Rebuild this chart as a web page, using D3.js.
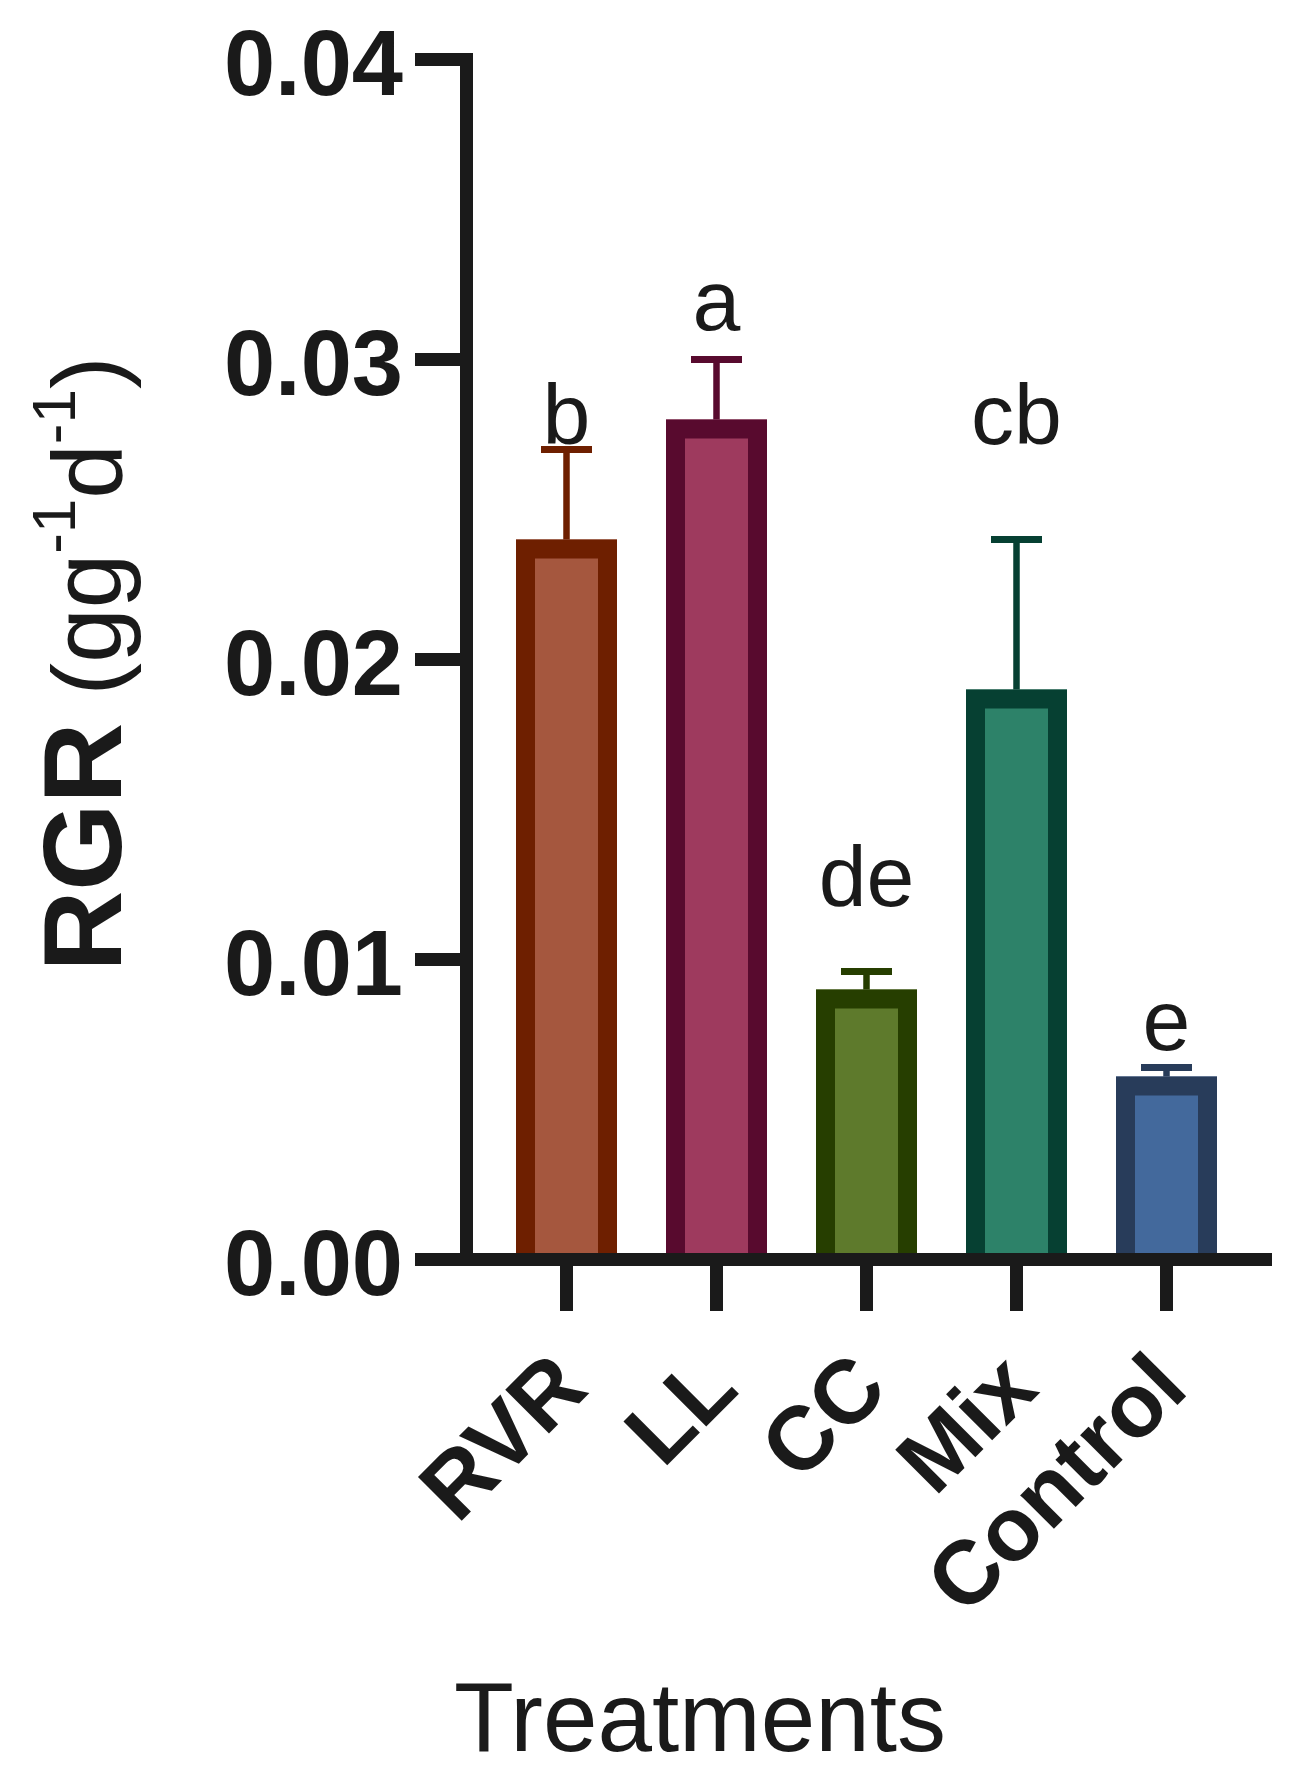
<!DOCTYPE html>
<html lang="en">
<head>
    <meta charset="UTF-8">
    <title>RGR - treatments</title>
    <style>
        body{
            margin : 0;
            background-color: white;
        }
        text{
            font-family : "Liberation Sans", Arial, sans-serif;
            fill : #1a1a1a;
        }
    </style>
</head>
<body>
    <script src="https://cdn.jsdelivr.net/npm/d3@7"></script>
    <script>
        // donnees
        const categories = ["RVR", "LL", "CC", "Mix", "Control"];
        const moyennes = [0.024, 0.028, 0.009, 0.019, 0.0061];
        const erreurs = [0.003, 0.002, 0.0006, 0.005, 0.0003];
        const lettres = ["b", "a", "de", "cb", "e"];
        const positionLettres = [0.0272, 0.0310, 0.0118, 0.0272, 0.0070];
        const graduationsY = [0, 0.01, 0.02, 0.03, 0.04];
        const remplissages = ["#a5573e", "#9e3a5e", "#5e7a2c", "#2d8269", "#43699c"];
        const contours = ["#6e1f00", "#580a2e", "#263e00", "#064032", "#283c5a"];

        const donnees = categories.map((c, i) => ({
            nom : c,
            moyenne : moyennes[i],
            erreur : erreurs[i],
            lettre : lettres[i],
            posLettre : positionLettres[i],
            fond : remplissages[i],
            bord : contours[i]
        }));

        const largeur = 1295, hauteur = 1772;
        const noir = "#1a1a1a";
        const epaisseurAxe = 13;
        const largeurBarre = 101;
        const bordBarre = 19;

        let canevas = d3.select('body')
            .append('svg')
                .attr('width', largeur)
                .attr('height', hauteur)

        // echelles
        let y = d3.scaleLinear()
            .domain([0, 0.04])
            .range([1259.5, 59.5])

        let x = d3.scaleBand()
            .domain(categories)
            .range([491.5, 1241.5])
            .padding(0)

        const decalage = (x.bandwidth() - largeurBarre) / 2;

        // barres : fond puis contour ouvert en bas
        let barres = canevas.append('g').selectAll('g')
            .data(donnees)
            .enter()
            .append('g')

        barres.append('rect')
            .attr('x', d => x(d.nom) + decalage)
            .attr('y', d => y(d.moyenne))
            .attr('width', largeurBarre)
            .attr('height', d => y(0) - y(d.moyenne))
            .attr('fill', d => d.fond)

        barres.append('path')
            .attr('d', d => {
                let x0 = x(d.nom) + decalage + bordBarre / 2;
                let x1 = x(d.nom) + decalage + largeurBarre - bordBarre / 2;
                let haut = y(d.moyenne) + bordBarre / 2;
                return `M${x0},${y(0)}V${haut}H${x1}V${y(0)}`;
            })
            .attr('fill', 'none')
            .attr('stroke', d => d.bord)
            .attr('stroke-width', bordBarre)
            .attr('stroke-linejoin', 'miter')

        // barres d'erreur
        barres.append('line')
            .attr('x1', d => x(d.nom) + x.bandwidth() / 2)
            .attr('x2', d => x(d.nom) + x.bandwidth() / 2)
            .attr('y1', d => y(d.moyenne))
            .attr('y2', d => y(d.moyenne + d.erreur))
            .attr('stroke', d => d.bord)
            .attr('stroke-width', 6.5)

        barres.append('line')
            .attr('x1', d => x(d.nom) + x.bandwidth() / 2 - 25.5)
            .attr('x2', d => x(d.nom) + x.bandwidth() / 2 + 25.5)
            .attr('y1', d => y(d.moyenne + d.erreur))
            .attr('y2', d => y(d.moyenne + d.erreur))
            .attr('stroke', d => d.bord)
            .attr('stroke-width', 7)

        // axe Y
        let axeY = canevas.append('g')
            .attr('transform', 'translate(466.5,0)')
            .call(d3.axisLeft(y)
                .tickValues(graduationsY)
                .tickFormat(d3.format('.2f'))
                .tickSize(51.5)
                .tickSizeOuter(0)
                .tickPadding(12)
                .offset(0))

        axeY.select('.domain').remove()
        axeY.append('line')
            .attr('x1', 0).attr('x2', 0)
            .attr('y1', y(0) + epaisseurAxe / 2)
            .attr('y2', y(0.04) - epaisseurAxe / 2)
            .attr('stroke', noir)
            .attr('stroke-width', epaisseurAxe)
        axeY.selectAll('.tick line')
            .attr('stroke', noir)
            .attr('stroke-width', epaisseurAxe)
        axeY.selectAll('.tick text')
            .attr('dy', 35)
            .style('font-size', '92px')
            .style('font-weight', 'bold')
            .attr('fill', noir)

        // axe X
        let axeX = canevas.append('g')
            .attr('transform', `translate(0,${y(0)})`)
            .call(d3.axisBottom(x)
                .tickSize(51.5)
                .tickSizeOuter(0)
                .offset(0))

        axeX.select('.domain').remove()
        axeX.append('line')
            .attr('x1', 415).attr('x2', 1272)
            .attr('y1', 0).attr('y2', 0)
            .attr('stroke', noir)
            .attr('stroke-width', epaisseurAxe)
        axeX.selectAll('.tick line')
            .attr('stroke', noir)
            .attr('stroke-width', epaisseurAxe)
        axeX.selectAll('.tick text')
            .attr('x', 0)
            .attr('y', 0)
            .attr('dy', '0.35em')
            .attr('transform', 'translate(2,110) rotate(-45)')
            .attr('text-anchor', 'end')
            .style('font-size', '90px')
            .style('font-weight', 'bold')
            .attr('fill', noir)

        // lettres de significativite
        canevas.append('g').selectAll('text')
            .data(donnees)
            .enter()
            .append('text')
                .attr('x', d => x(d.nom) + x.bandwidth() / 2)
                .attr('y', d => y(d.posLettre))
                .attr('text-anchor', 'middle')
                .style('font-size', '86px')
                .text(d => d.lettre)

        // titre de l'axe Y
        let titreY = canevas.append('text')
            .attr('transform', 'translate(121,664) rotate(-90)')
            .attr('text-anchor', 'middle')
        titreY.append('tspan').style('font-size', '112px').style('font-weight', 'bold').text('RGR')
        titreY.append('tspan').style('font-size', '98px').text(' (gg')
        titreY.append('tspan').style('font-size', '62px').attr('dy', -46).text('-1')
        titreY.append('tspan').style('font-size', '98px').attr('dy', 46).text('d')
        titreY.append('tspan').style('font-size', '62px').attr('dy', -46).text('-1')
        titreY.append('tspan').style('font-size', '98px').attr('dy', 46).text(')')

        // titre de l'axe X
        canevas.append('text')
            .attr('x', 700)
            .attr('y', 1751)
            .attr('text-anchor', 'middle')
            .style('font-size', '98px')
            .text('Treatments')
    </script>
</body>
</html>
